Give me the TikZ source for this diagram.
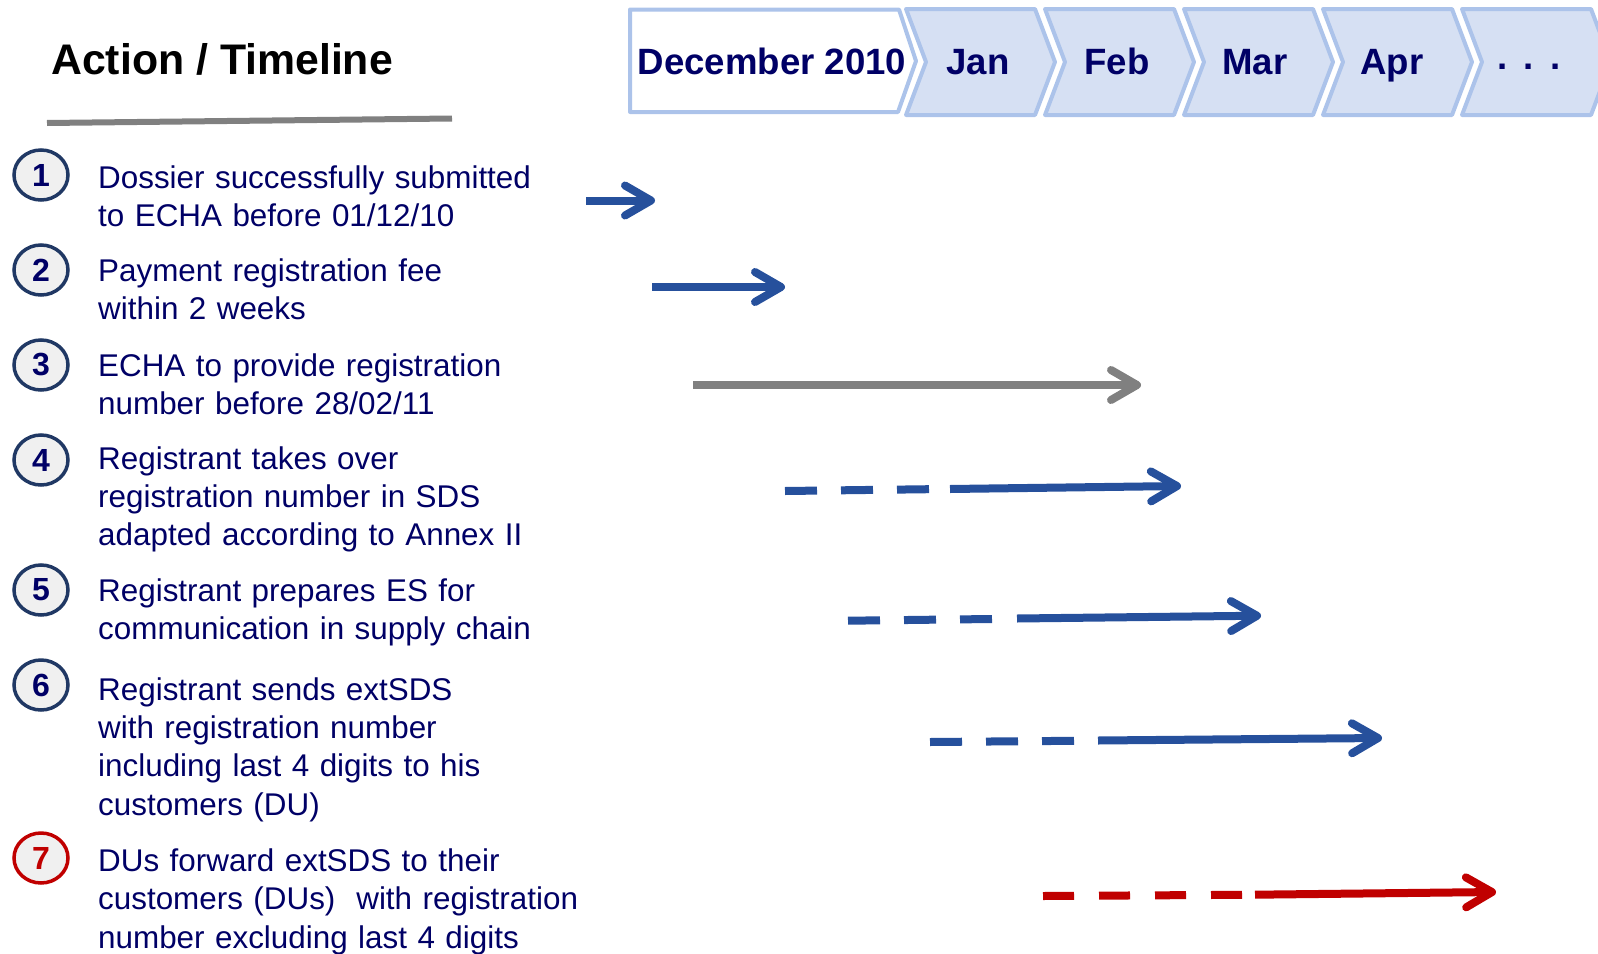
\documentclass[tikz,border=0pt]{standalone}
\usepackage{fontspec}
\setmainfont{Liberation Sans}
\usetikzlibrary{arrows.meta,shapes.geometric}

\definecolor{navy}{RGB}{0,0,102}
\definecolor{ringblue}{RGB}{32,56,100}
\definecolor{ringfill}{RGB}{240,240,240}
\definecolor{chevfill}{RGB}{214,224,243}
\definecolor{chevline}{RGB}{172,195,234}
\definecolor{flowblue}{RGB}{38,80,156}
\definecolor{flowgray}{RGB}{128,128,128}
\definecolor{flowred}{RGB}{192,0,0}

\begin{document}
\begin{tikzpicture}[x=1pt,y=-1pt,
  numring/.style={ellipse, draw=ringblue, fill=ringfill, line width=3.5pt,
    minimum width=54pt, minimum height=50pt, inner sep=0pt,
    font=\fontsize{32}{32}\selectfont\bfseries, text=navy},
  actiontext/.style={anchor=base west, text width=560pt, align=left, inner sep=0pt,
    font=\fontsize{31.4}{38.3}\selectfont, text=navy},
  monthlbl/.style={anchor=base, inner sep=0pt,
    font=\fontsize{36.6}{36.6}\selectfont\bfseries, text=navy},
  chev/.style={draw=chevline, fill=chevfill, line width=4pt, line join=round},
  flow/.style={line width=8pt, -{Straight Barb[length=26pt,width=30pt,round]}},
  dashflow/.style={line width=8pt, dash pattern=on 32pt off 24pt}]

\useasboundingbox (0,0) rectangle (1598,953);
\clip (0,0) rectangle (1598,953);

% heading and rule
\node[anchor=base west, inner sep=0pt, font=\fontsize{42.8}{42.8}\selectfont\bfseries]
  (title) at (51,74) {Action / Timeline};
\coordinate (ruleL) at (47,123);
\coordinate (ruleR) at (452,118.5);
\draw[flowgray, line width=6pt] (ruleL) -- (ruleR);

% month bar
\draw[chevline, fill=white, line width=4pt, line join=round]
  (630,9.5) -- (899,9.5) -- (916,61) -- (898,112) -- (630,112) -- cycle;
\foreach \i in {0,...,4}{
  \pgfmathsetmacro{\xa}{906+139*\i}
  \draw[chev] (\xa,9) -- ({\xa+129},9) -- ({\xa+149},62) -- ({\xa+129},115)
    -- (\xa,115) -- ({\xa+20},62) -- cycle;
}
\node[monthlbl] (dec) at (772,74) {December 2010};
\node[monthlbl] (jan) at (978,74) {Jan};
\node[monthlbl] (feb) at (1117,74) {Feb};
\node[monthlbl] (mar) at (1255,74) {Mar};
\node[monthlbl] (apr) at (1392,74) {Apr};
\node[monthlbl] (more) at (1529,69) {.\hspace{16pt}.\hspace{16pt}.};

% numbered actions
\node[numring] (n1) at (41,175) {1};
\node[numring] (n2) at (41,270) {2};
\node[numring] (n3) at (41,365) {3};
\node[numring] (n4) at (41,460) {4};
\node[numring] (n5) at (41,590) {5};
\node[numring] (n6) at (41,685) {6};
\node[numring, draw=flowred, text=flowred] (n7) at (41,858) {7};

\node[actiontext] (t1) at (98,188) {Dossier successfully submitted\\to ECHA before 01/12/10};
\node[actiontext] (t2) at (98,281.5) {Payment registration fee\\within 2 weeks};
\node[actiontext] (t3) at (98,376.3) {ECHA to provide registration\\number before 28/02/11};
\node[actiontext] (t4) at (98,469) {Registrant takes over\\registration number in SDS\\adapted according to Annex II};
\node[actiontext] (t5) at (98,601.5) {Registrant prepares ES for\\communication in supply chain};
\node[actiontext] (t6) at (98,700.3) {Registrant sends extSDS\\with registration number\\including last 4 digits to his\\customers (DU)};
\node[actiontext] (t7) at (98,871.5) {DUs forward extSDS to their\\customers (DUs)\ \ with registration\\number excluding last 4 digits};

% timeline arrows
\coordinate (a1s) at (586,200.5);  \coordinate (a1e) at (655,200.5);
\coordinate (a2s) at (652,287);    \coordinate (a2e) at (785,287);
\coordinate (a3s) at (693,385);    \coordinate (a3e) at (1141,385);
\draw[flow, flowblue] (a1s) -- (a1e);
\draw[flow, flowblue] (a2s) -- (a2e);
\draw[flow, flowgray] (a3s) -- (a3e);

\coordinate (a4s) at (785,491);  \coordinate (a4d) at (929,489.2);
\coordinate (a4m) at (950,489);  \coordinate (a4e) at (1181,486);
\draw[dashflow, flowblue] (a4s) -- (a4d);
\draw[flow, flowblue] (a4m) -- (a4e);

\coordinate (a5s) at (848,620.7); \coordinate (a5d) at (992,619);
\coordinate (a5m) at (1017,618.5); \coordinate (a5e) at (1261,615.7);
\draw[dashflow, flowblue] (a5s) -- (a5d);
\draw[flow, flowblue] (a5m) -- (a5e);

\coordinate (a6s) at (930,742);  \coordinate (a6d) at (1074,740.8);
\coordinate (a6m) at (1098,740.5); \coordinate (a6e) at (1382,738);
\draw[dashflow, flowblue] (a6s) -- (a6d);
\draw[flow, flowblue] (a6m) -- (a6e);

\coordinate (a7s) at (1043,896); \coordinate (a7d) at (1243,894.8);
\coordinate (a7m) at (1255,894.7); \coordinate (a7e) at (1496,892);
\draw[dashflow, dash pattern=on 31pt off 25pt, flowred] (a7s) -- (a7d);
\draw[flow, flowred] (a7m) -- (a7e);
\end{tikzpicture}
\end{document}
